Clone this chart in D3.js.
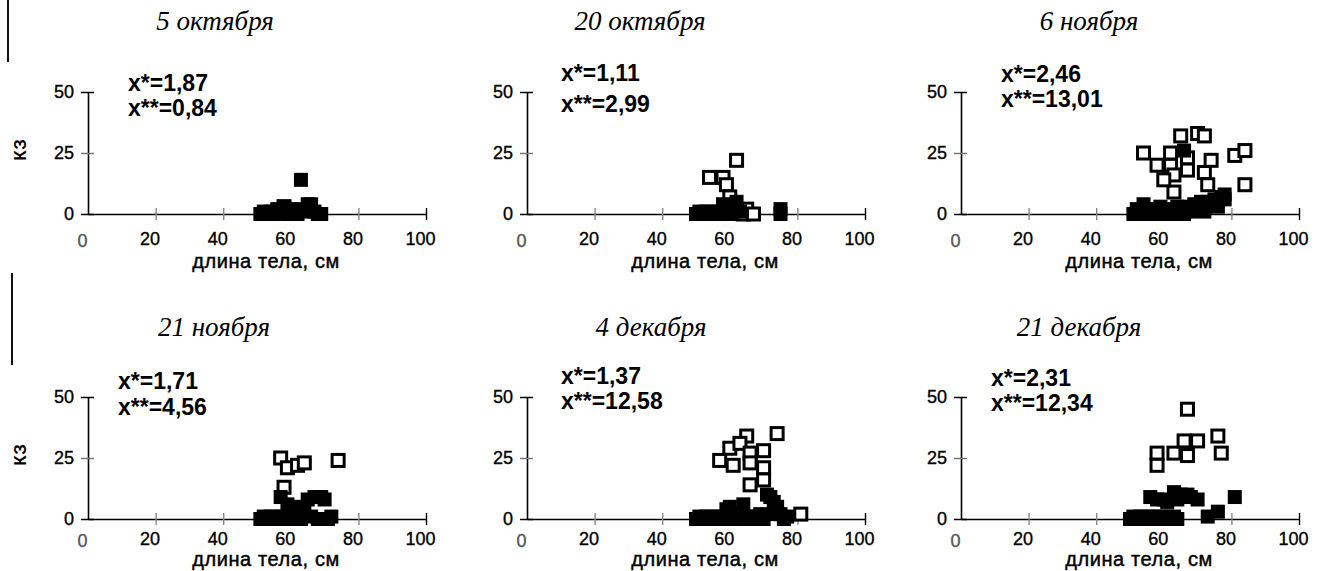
<!DOCTYPE html>
<html>
<head>
<meta charset="utf-8">
<script src="https://cdn.jsdelivr.net/npm/d3@7"></script>
<style>
  body { margin: 0; background: #fff; }
  svg { display: block; }
</style>
</head>
<body>
<div id="chart"></div>
<script>
// panel titles and the two statistics printed in each panel
var dates = ["5 октября", "20 октября", "6 ноября", "21 ноября", "4 декабря", "21 декабря"];
var xStar = ["1,87", "1,11", "2,46", "1,71", "1,37", "2,31"];
var xStar2 = ["0,84", "2,99", "13,01", "4,56", "12,58", "12,34"];

var xTicks = [0, 20, 40, 60, 80, 100];
var yTicks = [0, 25, 50];

// [длина тела, КЗ]; filled and open squares
var filled = [
    [[51,0],[52,1],[53,0],[54,1],[55,0],[56,2],[57,1],[58,3],[59,0],[60,2],[61,1],[62,0],[63,2],[64,1],[65,4],
     [66,4],[67,1],[68,0],[69,0],[63,14]],
    [[50,0],[51,1],[52,0],[53,1],[54,0],[55,1],[56,0],[57,1],[58,4],[59,2],[60,0],[61,3],[62,5],[63,1],[75,0],[75,2]],
    [[51,0],[52,2],[53,0],[54,4],[55,1],[56,0],[57,2],[58,0],[59,3],[60,1],[61,0],[62,2],[63,0],[64,3],[65,1],
     [66,0],[67,3],[68,1],[69,4],[70,2],[71,5],[72,3],[73,5],[74,4],[75,6],[76,5],[77,7],[78,6],[78,8],[76,3],
     [72,1],[66,26]],
    [[51,0],[52,1],[53,0],[54,1],[55,0],[56,1],[57,9],[57,0],[58,1],[59,6],[60,0],[61,4],[62,5],[63,0],[63,2],
     [64,3],[65,8],[66,1],[67,9],[68,0],[69,9],[70,8],[71,0],[72,1]],
    [[50,0],[51,1],[52,0],[53,1],[54,0],[55,1],[56,0],[57,1],[58,0],[59,4],[60,5],[61,1],[62,0],[63,2],[64,6],
     [65,1],[66,0],[67,1],[68,0],[69,2],[70,0],[71,10],[72,9],[73,7],[73,2],[74,5],[75,2],[76,0],[77,1]],
    [[50,0],[51,1],[52,0],[53,1],[54,0],[55,1],[56,0],[57,1],[58,0],[59,1],[60,0],[61,1],[62,0],[63,1],[64,0],
     [56,9],[58,8],[60,8],[61,7],[63,11],[64,8],[65,10],[67,10],[68,9],[70,8],[73,1],[76,3],[81,9]]
];
var open = [
    [[58,3]],
    [[54,15],[58,15],[59,12],[60,7],[62,22],[64,0],[65,2],[67,0]],
    [[54,25],[58,20],[62,20],[63,16],[62,25],[65,32],[67,23],[67,18],[70,33],[72,32],[74,22],[72,17],[73,12],
     [81,24],[84,26],[84,12],[63,9],[60,14]],
    [[57,25],[59,21],[62,22],[64,23],[74,24],[58,13]],
    [[65,34],[74,35],[57,24],[60,29],[61,22],[63,31],[66,27],[70,28],[66,23],[70,21],[70,16],[66,14],[81,2]],
    [[67,45],[58,27],[58,22],[63,27],[66,32],[70,32],[67,26],[76,34],[77,27]]
];

var width = 1329, height = 571;
var colX = [88, 527, 961], rowY = [214, 519];
var plotW = 338, plotH = 122;
var titleX = [215, 640, 1089, 214, 651, 1079], titleY = [30, 336];
var statPos = [[40, -123, -98], [34, -133, -102], [40, -132, -107],
               [30, -130, -104], [34, -135, -110], [30, -133, -108]];
var tickDy = [31, 26], labelDy = [54, 47];

var svg = d3.select("#chart").append("svg")
    .attr("width", width)
    .attr("height", height);

// page edge left by the scan
svg.append("line").attr("x1", 8).attr("x2", 8).attr("y1", 0).attr("y2", 62)
    .attr("stroke", "#111").attr("stroke-width", 2);
svg.append("line").attr("x1", 12).attr("x2", 12).attr("y1", 273).attr("y2", 365)
    .attr("stroke", "#111").attr("stroke-width", 2);

dates.forEach(function(d, i) {
    var row = Math.floor(i / 3), col = i % 3;
    var ox = colX[col], oy = rowY[row];

    var x = d3.scaleLinear().domain([0, 100]).range([ox, ox + plotW]);
    var y = d3.scaleLinear().domain([0, 50]).range([oy, oy - plotH]);

    svg.append("text")
        .attr("x", titleX[i]).attr("y", titleY[row])
        .attr("text-anchor", "middle")
        .style("font-family", "'Liberation Serif', 'Times New Roman', serif")
        .style("font-style", "italic")
        .style("font-size", "27px")
        .text(d);

    var gx = svg.append("g")
        .attr("transform", "translate(0," + oy + ")")
        .call(d3.axisBottom(x).tickValues(xTicks).tickSize(6).tickSizeOuter(0));
    gx.select(".domain").attr("stroke", "#000").attr("stroke-width", 1.6);
    gx.selectAll(".tick line").attr("y1", -6).attr("y2", 6)
        .attr("stroke", "#888").attr("stroke-width", 1.4);
    gx.selectAll(".tick line").filter(function(t) { return t === 100; }).attr("stroke", "#000");
    gx.selectAll(".tick line").filter(function(t) { return t === 0; }).remove();
    gx.selectAll(".tick text")
        .attr("x", -6)
        .attr("y", function(t) { return t === 0 ? tickDy[row] + 2 : tickDy[row]; })
        .attr("dy", 0)
        .attr("fill", function(t) { return t === 0 ? "#555" : "#000"; })
        .style("font-family", "'Liberation Sans', Arial, sans-serif")
        .style("font-size", "18px")
        .attr("stroke", function(t) { return t === 0 ? "#555" : "#000"; })
        .attr("stroke-width", 0.35);

    var gy = svg.append("g")
        .attr("transform", "translate(" + ox + ",0)")
        .call(d3.axisLeft(y).tickValues(yTicks).tickSize(7).tickSizeOuter(0).tickPadding(7));
    gy.select(".domain").attr("stroke", "#000").attr("stroke-width", 1.6);
    gy.selectAll(".tick line").attr("x1", -7).attr("x2", 6)
        .attr("stroke", function(t) { return t === 25 ? "#777" : "#000"; })
        .attr("stroke-width", 1.5);
    gy.selectAll(".tick text")
        .attr("fill", "#000")
        .style("font-family", "'Liberation Sans', Arial, sans-serif")
        .style("font-size", "18px")
        .attr("stroke", "#000").attr("stroke-width", 0.35);

    svg.append("text")
        .attr("x", ox + 178).attr("y", oy + labelDy[row])
        .attr("text-anchor", "middle")
        .style("font-family", "'Liberation Sans', Arial, sans-serif")
        .style("font-size", "20px")
        .style("letter-spacing", "0.6px")
        .attr("stroke", "#000").attr("stroke-width", 0.45)
        .text("длина тела, см");

    if (col === 0) {
        var ly = y(25) - 3;
        svg.append("text")
            .attr("transform", "translate(26," + ly + ") rotate(-90)")
            .attr("text-anchor", "middle")
            .style("font-family", "'Liberation Sans', Arial, sans-serif")
            .style("font-size", "17px")
            .style("font-weight", "bold")
            .text("КЗ");
    }

    var st = statPos[i];
    [["x*=" + xStar[i], st[1]], ["x**=" + xStar2[i], st[2]]].forEach(function(s) {
        svg.append("text")
            .attr("x", ox + st[0]).attr("y", oy + s[1])
            .style("font-family", "'Liberation Sans', Arial, sans-serif")
            .style("font-size", "23px")
            .style("font-weight", "bold")
            .text(s[0]);
    });

    var sf = 14, so = 15, sw = 3;
    svg.append("g").selectAll("rect").data(open[i]).enter().append("rect")
        .attr("x", function(p) { return x(p[0]) - (so - sw) / 2; })
        .attr("y", function(p) { return y(p[1]) - (so - sw) / 2; })
        .attr("width", so - sw).attr("height", so - sw)
        .attr("fill", "#fff").attr("stroke", "#000").attr("stroke-width", sw);

    svg.append("g").selectAll("rect").data(filled[i]).enter().append("rect")
        .attr("x", function(p) { return x(p[0]) - sf / 2; })
        .attr("y", function(p) { return y(p[1]) - sf / 2; })
        .attr("width", sf).attr("height", sf)
        .attr("fill", "#000");
});
</script>
</body>
</html>
